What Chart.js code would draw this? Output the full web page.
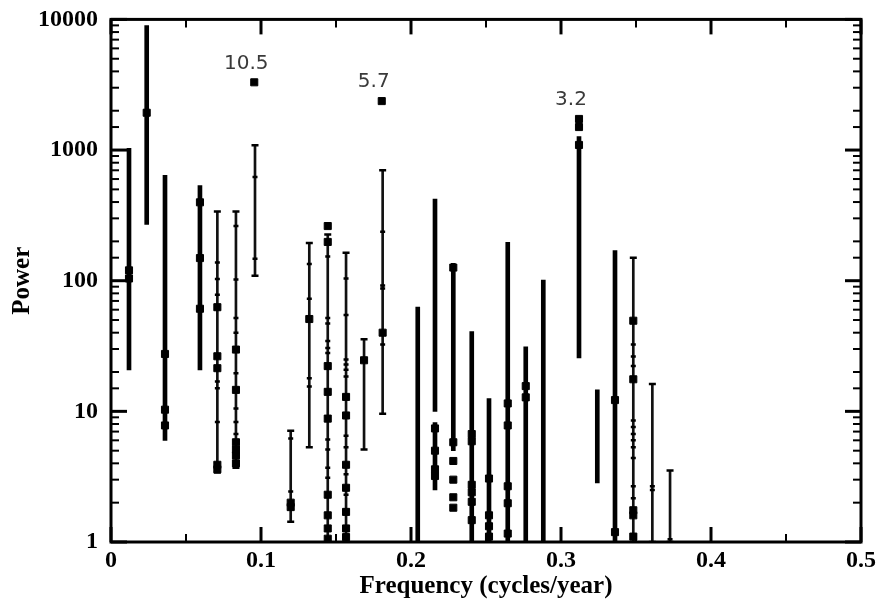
<!DOCTYPE html>
<html>
<head>
<meta charset="utf-8">
<title>Power spectrum</title>
<script src="https://cdn.jsdelivr.net/npm/chart.js@4.4.1/dist/chart.umd.min.js"></script>
<style>
  html, body { margin: 0; padding: 0; background: #fff; }
  #wrap { width: 881px; height: 607px; }
</style>
</head>
<body>
<div id="wrap"><canvas id="spektrum"></canvas></div>
<script>
// wide error bars: frequency (cycles/year), lower and upper power
const thickFreq = [0.012, 0.0238, 0.036, 0.0593, 0.2045, 0.216, 0.216, 0.2282, 0.2405, 0.252, 0.2645, 0.2765, 0.2882, 0.312, 0.3242, 0.336];
const thickLow  = [20.8, 270, 6.0, 20.8, 1, 10, 2.5, 5.0, 1, 1, 1, 1, 1, 25.6, 2.83, 1];
const thickHigh = [1030, 8960, 640, 535, 62.7, 421, 8.2, 136, 40.8, 12.5, 197, 31.2, 101, 1270, 14.6, 170];

// narrow error bars, drawn with end caps
const thinFreq = [0.0709, 0.0833, 0.096, 0.1198, 0.1322, 0.1445, 0.1567, 0.1687, 0.1811, 0.3482, 0.3609, 0.3727];
const thinLow  = [3.4, 3.7, 109, 1.43, 5.3, 1, 1, 5.1, 9.6, 1, 1, 1];
const thinHigh = [338, 338, 1090, 7.1, 194, 226, 164, 35.6, 700, 150, 16.2, 3.52];

// power estimates shown as filled squares
const boxFreq = [
  0.012, 0.012,
  0.0238,
  0.036, 0.036, 0.036,
  0.0593, 0.0593, 0.0593,
  0.0709, 0.0709, 0.0709, 0.0709, 0.0709,
  0.0833, 0.0833, 0.0833, 0.0833, 0.0833, 0.0833,
  0.1198, 0.1198,
  0.1322,
  0.1445, 0.1445, 0.1445, 0.1445, 0.1445, 0.1445, 0.1445, 0.1445, 0.1445,
  0.1567, 0.1567, 0.1567, 0.1567, 0.1567, 0.1567, 0.1567,
  0.1687,
  0.1811,
  0.216, 0.216, 0.216, 0.216,
  0.2282, 0.2282, 0.2282, 0.2282, 0.2282, 0.2282,
  0.2405, 0.2405, 0.2405, 0.2405, 0.2405, 0.2405,
  0.252, 0.252, 0.252, 0.252,
  0.2645, 0.2645, 0.2645, 0.2645, 0.2645,
  0.2765, 0.2765,
  0.312, 0.312,
  0.336, 0.336,
  0.3482, 0.3482, 0.3482, 0.3482, 0.3482
];
const boxPower = [
  120, 104,
  1930,
  27.5, 10.3, 7.8,
  398, 149, 61,
  62.7, 26.4, 21.4, 3.9, 3.6,
  29.7, 14.6, 5.8, 5.1, 4.6, 4.0,
  2.0, 1.85,
  50.9,
  262, 198, 22.2, 14.1, 8.8, 2.3, 1.6, 1.27, 1.06,
  12.9, 9.3, 3.9, 2.6, 1.7, 1.27, 1.09,
  24.6,
  40,
  7.4, 5.0, 3.6, 3.2,
  126, 5.8, 4.17, 3.0, 2.2, 1.83,
  6.7, 5.9, 2.74, 2.4, 2.03, 1.47,
  3.06, 1.6, 1.32, 1.1,
  11.5, 7.8, 2.67, 1.98, 1.16,
  15.6, 12.8,
  1500, 1094,
  12.2, 1.19,
  49.4, 17.6, 1.75, 1.6, 1.1
];

// secondary estimates shown as short dashes
const dashFreq = [
  0.0709, 0.0709, 0.0709, 0.0709, 0.0709, 0.0709,
  0.0833, 0.0833, 0.0833, 0.0833, 0.0833, 0.0833, 0.0833, 0.0833,
  0.096, 0.096,
  0.1198, 0.1198,
  0.1322, 0.1322, 0.1322, 0.1322,
  0.1445, 0.1445, 0.1445, 0.1445, 0.1445, 0.1445, 0.1445, 0.1445, 0.1445, 0.1445,
  0.1567, 0.1567, 0.1567, 0.1567, 0.1567, 0.1567, 0.1567, 0.1567, 0.1567, 0.1567,
  0.1811, 0.1811, 0.1811, 0.1811,
  0.3482, 0.3482, 0.3482, 0.3482, 0.3482, 0.3482, 0.3482, 0.3482, 0.3482, 0.3482, 0.3482,
  0.3609, 0.3609,
  0.3727
];
const dashPower = [
  138, 103, 78, 16.9, 15, 8.3,
  262, 102, 51.8, 40, 19.6, 10.5, 8.3, 6.7,
  621, 147,
  6.2, 2.44,
  134, 72.8, 17.9, 15.5,
  153, 51.8, 47, 34.6, 30.6, 28, 6.1, 5.1, 3.7, 3.1,
  104, 54.6, 24.9, 22.8, 20.8, 18.5, 6.5, 5.3, 3.3, 2.3,
  237, 92, 87, 32.5,
  32.5, 26.3, 22.2, 8.5, 7.6, 6.7, 6.0, 5.3, 4.4, 2.67, 2.16,
  2.67, 2.5,
  1.05
];

// labelled peaks: period in years
const peakLabel = ['10.5', '5.7', '3.2'];
const peakFreq  = [0.0955, 0.1805, 0.312];
const peakPower = [3300, 2370, 1730];

const xTickLabels = [0, 0.1, 0.2, 0.3, 0.4, 0.5];
const yTickLabels = [1, 10, 100, 1000, 10000];

const serif = '"Liberation Serif", "Times New Roman", serif';

const toPoints = (fs, vs) => fs.map((f, i) => ({ x: f, y: vs[i] }));
const toRanges = (fs, lo, hi) => fs.map((f, i) => ({ x: f, y: [lo[i], hi[i]] }));
const capPoints = thinFreq.flatMap((f, i) => [{ x: f, y: thinLow[i] }, { x: f, y: thinHigh[i] }]);

const isDecade = (v) => Math.abs(Math.log10(v) - Math.round(Math.log10(v))) < 1e-9;
const isTenth = (v) => Math.abs(v * 10 - Math.round(v * 10)) < 1e-6;

// inward ticks on all four sides, the frame and the peak labels
const frameTicks = {
  id: 'frameTicks',
  afterDatasetsDraw(chart) {
    const { ctx, chartArea: a, scales: { x, y } } = chart;
    ctx.save();
    ctx.strokeStyle = '#000';

    const seg = (x1, y1, x2, y2) => {
      ctx.beginPath();
      ctx.moveTo(x1, y1);
      ctx.lineTo(x2, y2);
      ctx.stroke();
    };

    x.ticks.forEach((t) => {
      const px = x.getPixelForValue(t.value);
      const major = isTenth(t.value);
      const len = major ? 15 : 8;
      ctx.lineWidth = major ? 3 : 2;
      seg(px, a.bottom, px, a.bottom - len);
      seg(px, a.top, px, a.top + len);
    });

    y.ticks.forEach((t) => {
      const py = y.getPixelForValue(t.value);
      const major = isDecade(t.value);
      const len = major ? 16 : 8;
      ctx.lineWidth = major ? 3 : 2;
      seg(a.left, py, a.left + len, py);
      seg(a.right, py, a.right - len, py);
    });

    ctx.lineWidth = 3;
    ctx.strokeRect(a.left, a.top, a.right - a.left, a.bottom - a.top);

    ctx.fillStyle = '#3a3a3a';
    ctx.font = '20px "DejaVu Sans", sans-serif';
    ctx.textAlign = 'center';
    ctx.textBaseline = 'middle';
    peakLabel.forEach((s, i) => {
      ctx.fillText(s, x.getPixelForValue(peakFreq[i]) - 8, y.getPixelForValue(peakPower[i]) - 19);
    });
    ctx.restore();
  }
};

new Chart(document.getElementById('spektrum'), {
  type: 'scatter',
  data: {
    datasets: [
      {
        type: 'bar',
        data: toRanges(thickFreq, thickLow, thickHigh),
        backgroundColor: '#000',
        borderWidth: 0,
        barThickness: 4,
        grouped: false,
        order: 6,
      },
      {
        type: 'bar',
        data: toRanges(thinFreq, thinLow, thinHigh),
        backgroundColor: '#111',
        borderWidth: 0,
        barThickness: 2,
        grouped: false,
        order: 5,
      },
      {
        data: capPoints,
        pointStyle: 'line',
        radius: 3.5,
        borderWidth: 2.5,
        borderColor: '#000',
        order: 4,
      },
      {
        data: toPoints(dashFreq, dashPower),
        pointStyle: 'line',
        radius: 2.5,
        borderWidth: 2.5,
        borderColor: '#000',
        order: 3,
      },
      {
        data: toPoints(boxFreq, boxPower),
        pointStyle: 'rect',
        radius: 5,
        borderWidth: 1,
        borderColor: '#000',
        backgroundColor: '#000',
        order: 2,
      },
      {
        data: toPoints(peakFreq, peakPower),
        pointStyle: 'rect',
        radius: 5,
        borderWidth: 1,
        borderColor: '#000',
        backgroundColor: '#000',
        order: 1,
      },
    ],
  },
  options: {
    responsive: true,
    maintainAspectRatio: false,
    animation: false,
    events: [],
    layout: { padding: { left: 0, right: 20, top: 17, bottom: 0 } },
    plugins: { legend: { display: false }, tooltip: { enabled: false } },
    scales: {
      x: {
        type: 'linear',
        min: 0,
        max: 0.5,
        offset: false,
        grid: { display: false },
        border: { display: false },
        afterFit: (s) => { s.height = 65; },
        ticks: {
          stepSize: 0.05,
          autoSkip: false,
          maxRotation: 0,
          padding: -4,
          color: '#000',
          font: { family: serif, size: 24, weight: 'bold' },
          callback: (v) => {
            const k = Math.round(v * 100) / 100;
            return xTickLabels.includes(k) ? String(k) : '';
          },
        },
        title: {
          display: true,
          text: 'Frequency (cycles/year)',
          color: '#000',
          font: { family: serif, size: 25, weight: 'bold' },
          padding: { top: 0, bottom: 5 },
        },
      },
      y: {
        type: 'logarithmic',
        min: 1,
        max: 10000,
        grid: { display: false },
        border: { display: false },
        afterFit: (s) => { s.width = 111; },
        ticks: {
          autoSkip: false,
          padding: 5,
          color: '#000',
          font: { family: serif, size: 24, weight: 'bold' },
          callback: (v) => (isDecade(v) && yTickLabels.includes(Math.round(v)) ? String(Math.round(v)) : ''),
        },
        title: {
          display: true,
          text: 'Power',
          color: '#000',
          font: { family: serif, size: 25, weight: 'bold' },
          padding: { top: 8, bottom: 0 },
        },
      },
    },
  },
  plugins: [frameTicks],
});
</script>
</body>
</html>
